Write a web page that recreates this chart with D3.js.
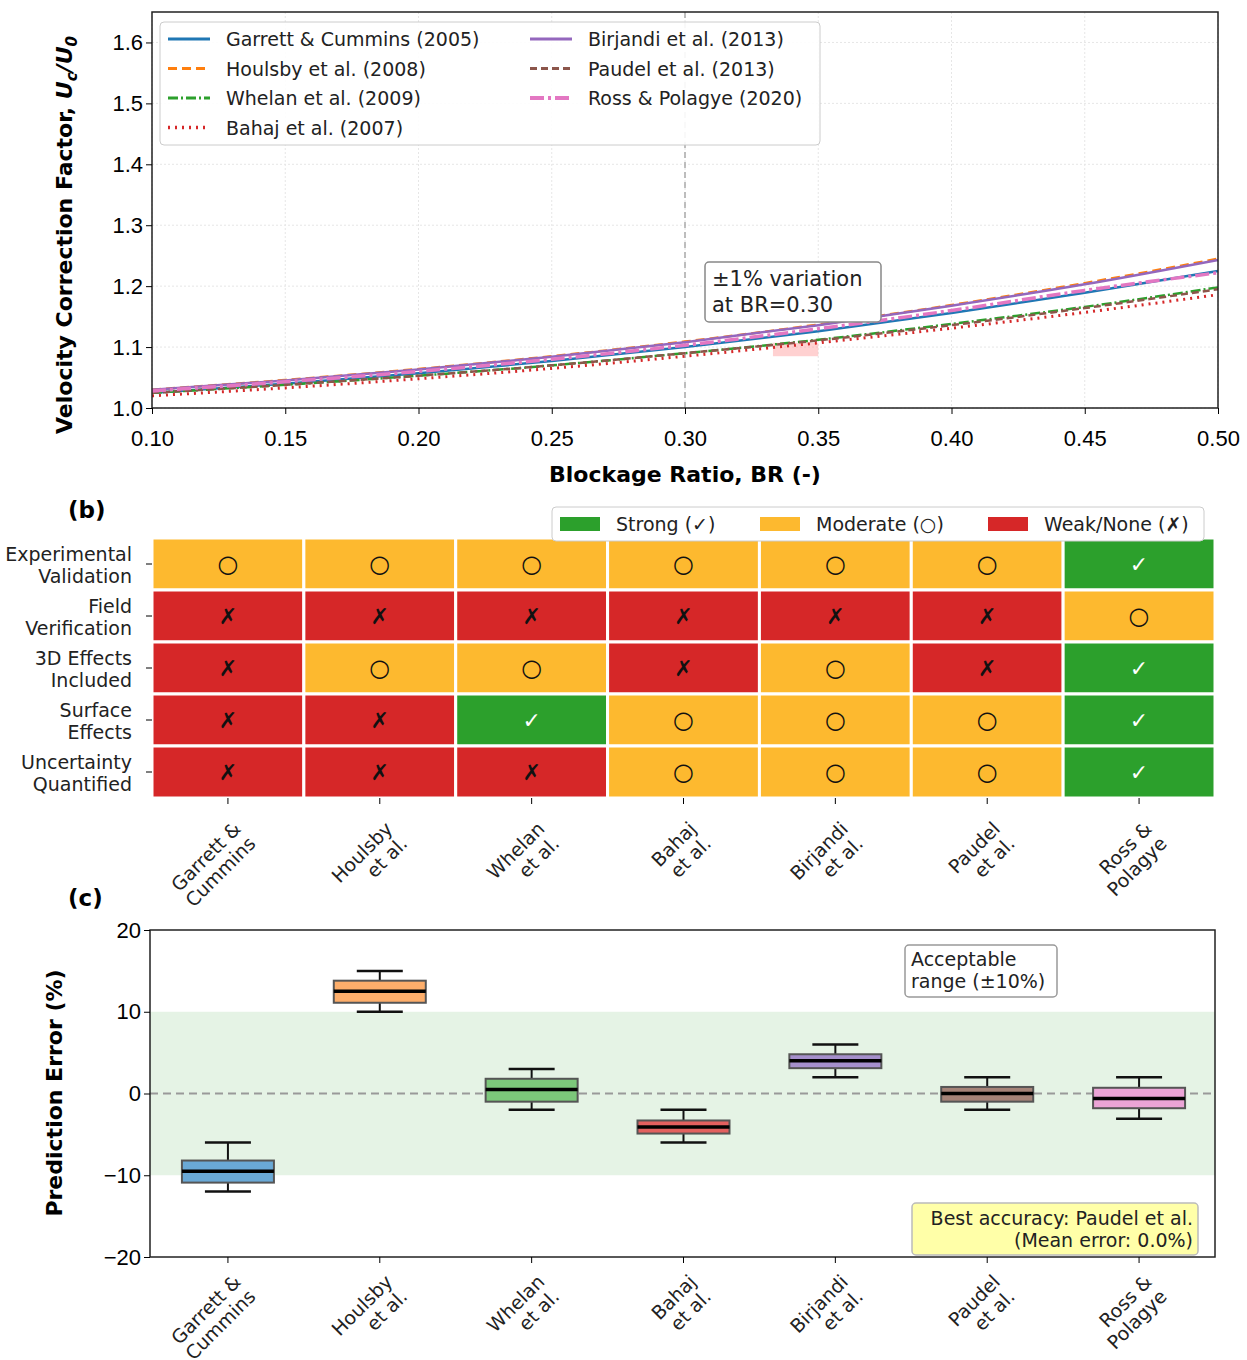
<!DOCTYPE html>
<html><head><meta charset="utf-8">
<script src="https://cdn.jsdelivr.net/npm/d3@7"></script>
<style>body{margin:0;background:#fff;font-family:"DejaVu Sans",sans-serif;}</style>
</head><body>
<script>
// ---------- data ----------
var brTicks = [0.10, 0.15, 0.20, 0.25, 0.30, 0.35, 0.40, 0.45, 0.50];
var methods = ["Garrett & Cummins (2005)", "Houlsby et al. (2008)", "Whelan et al. (2009)", "Bahaj et al. (2007)",
               "Birjandi et al. (2013)", "Paudel et al. (2013)", "Ross & Polagye (2020)"];
var shortNames = [["Garrett &", "Cummins"], ["Houlsby", "et al."], ["Whelan", "et al."], ["Bahaj", "et al."],
                  ["Birjandi", "et al."], ["Paudel", "et al."], ["Ross &", "Polagye"]];
var garrett  = [1.025, 1.040, 1.057, 1.077, 1.100, 1.126, 1.156, 1.189, 1.225];
var houlsby  = [1.030, 1.046, 1.064, 1.085, 1.109, 1.137, 1.169, 1.205, 1.245];
var whelan   = [1.025, 1.038, 1.053, 1.070, 1.090, 1.112, 1.138, 1.166, 1.198];
var bahaj    = [1.020, 1.033, 1.048, 1.065, 1.085, 1.107, 1.131, 1.157, 1.186];
var birjandi = [1.030, 1.045, 1.063, 1.084, 1.108, 1.136, 1.168, 1.203, 1.243];
var paudel   = [1.025, 1.038, 1.053, 1.070, 1.090, 1.111, 1.136, 1.164, 1.195];
var ross     = [1.028, 1.043, 1.060, 1.080, 1.103, 1.130, 1.160, 1.193, 1.222];
var criteria = [["Experimental", "Validation"], ["Field", "Verification"], ["3D Effects", "Included"],
                ["Surface", "Effects"], ["Uncertainty", "Quantified"]];
// 2 = strong, 1 = moderate, 0 = weak
var ratings = [
  [1, 1, 1, 1, 1, 1, 2],
  [0, 0, 0, 0, 0, 0, 1],
  [0, 1, 1, 0, 1, 0, 2],
  [0, 0, 2, 1, 1, 1, 2],
  [0, 0, 0, 1, 1, 1, 2]
];
// box stats: [whiskerLow, q1, median, q3, whiskerHigh]
var errStats = [
  [-12, -10.9, -9.5, -8.2, -6],
  [10, 11.1, 12.5, 13.8, 15],
  [-2, -1, 0.5, 1.8, 3],
  [-6, -4.9, -4.1, -3.3, -2],
  [2, 3.1, 4, 4.8, 6],
  [-2, -1, 0, 0.8, 2],
  [-3.1, -1.8, -0.6, 0.7, 2]
];

var lineColors = ["#1f77b4", "#ff7f0e", "#2ca02c", "#d62728", "#9467bd", "#8c564b", "#e377c2"];
var dashes = [null, "9,5", "10,3,2,3", "2,5", null, "7,4", "14,4,3,4"];
var widths = [2.5, 2.5, 2.5, 3, 2.5, 2.5, 3.5];
var boxFill = ["#6aa9d6", "#fdae6b", "#7cc77a", "#e3605f", "#a58fcc", "#a58378", "#eba4d6"];
var ratingColors = ["#d62728", "#fdb92f", "#2ca02c"];
var ratingSym = ["✗", "○", "✓"];

var svg = d3.select("body").append("svg").attr("width", 1247).attr("height", 1360);
var series = [garrett, houlsby, whelan, bahaj, birjandi, paudel, ross];

// ---------- (a) ----------
var ax = {l: 152, r: 1218, t: 12, b: 408};
var x = d3.scaleLinear().domain([0.1, 0.5]).range([ax.l, ax.r]);
var y = d3.scaleLinear().domain([1.0, 1.65]).range([ax.b, ax.t]);
var ga = svg.append("g");
// grid
ga.selectAll(".gx").data(brTicks).enter().append("line")
  .attr("x1", d => x(d)).attr("x2", d => x(d)).attr("y1", ax.t).attr("y2", ax.b)
  .attr("stroke", "#e6e6e6").attr("stroke-dasharray", "2,2");
ga.selectAll(".gy").data(d3.range(1.0, 1.61, 0.1)).enter().append("line")
  .attr("x1", ax.l).attr("x2", ax.r).attr("y1", d => y(d)).attr("y2", d => y(d))
  .attr("stroke", "#e6e6e6").attr("stroke-dasharray", "2,2");
ga.append("line").attr("x1", x(0.3)).attr("x2", x(0.3)).attr("y1", ax.t).attr("y2", ax.b)
  .attr("stroke", "#aaa").attr("stroke-width", 1.5).attr("stroke-dasharray", "6,4");
ga.append("rect").attr("x", x(0.333)).attr("y", y(1.107)).attr("width", x(0.35) - x(0.333))
  .attr("height", y(1.085) - y(1.107)).attr("fill", "#ff9999").attr("opacity", 0.45);
var line = d3.line().x((d, i) => x(brTicks[i])).y(d => y(d)).curve(d3.curveMonotoneX);
series.forEach(function(s, k) {
  ga.append("path").datum(s).attr("d", line).attr("fill", "none")
    .attr("stroke", lineColors[k]).attr("stroke-width", widths[k])
    .attr("stroke-dasharray", dashes[k]);
});
ga.append("rect").attr("x", ax.l).attr("y", ax.t).attr("width", ax.r - ax.l).attr("height", ax.b - ax.t)
  .attr("fill", "none").attr("stroke", "#222").attr("stroke-width", 1.5);
ga.append("g").attr("transform", `translate(0,${ax.b})`)
  .call(d3.axisBottom(x).tickValues(brTicks).tickFormat(d3.format(".2f")).tickSizeOuter(0))
  .call(g => g.select(".domain").remove())
  .selectAll("text").attr("font-size", 22).attr("dy", "1.3em");
ga.append("g").attr("transform", `translate(${ax.l},0)`)
  .call(d3.axisLeft(y).tickValues(d3.range(1.0, 1.61, 0.1)).tickFormat(d3.format(".1f")).tickSizeOuter(0))
  .call(g => g.select(".domain").remove())
  .selectAll("text").attr("font-size", 22);
ga.append("text").attr("x", 685).attr("y", 482).attr("text-anchor", "middle")
  .attr("font-size", 22).attr("font-weight", "bold").text("Blockage Ratio, BR (-)");
var yl = ga.append("text").attr("transform", "translate(72,235) rotate(-90)").attr("text-anchor", "middle")
  .attr("font-size", 22).attr("font-weight", "bold");
yl.append("tspan").text("Velocity Correction Factor, ");
yl.append("tspan").attr("font-style", "italic").text("U");
yl.append("tspan").attr("font-style", "italic").attr("font-size", 15).attr("dy", 5).text("c");
yl.append("tspan").attr("font-style", "italic").attr("dy", -5).text("/U");
yl.append("tspan").attr("font-style", "italic").attr("font-size", 15).attr("dy", 5).text("0");
// legend
ga.append("rect").attr("x", 160).attr("y", 22).attr("width", 660).attr("height", 123).attr("rx", 4)
  .attr("fill", "#fff").attr("fill-opacity", 0.9).attr("stroke", "#ccc");
methods.forEach(function(m, k) {
  var col = k < 4 ? 0 : 1, row = k < 4 ? k : k - 4;
  var lx = 168 + col * 362, ly = 39 + row * 29.5;
  ga.append("line").attr("x1", lx).attr("x2", lx + 42).attr("y1", ly).attr("y2", ly)
    .attr("stroke", lineColors[k]).attr("stroke-width", widths[k] + 0.5).attr("stroke-dasharray", dashes[k]);
  ga.append("text").attr("x", lx + 58).attr("y", ly + 7).attr("font-size", 19).attr("fill", "#222").text(m);
});
// annotation
ga.append("rect").attr("x", 705).attr("y", 262).attr("width", 176).attr("height", 60).attr("rx", 4)
  .attr("fill", "#fff").attr("stroke", "#888").attr("stroke-width", 1.5);
ga.append("text").attr("x", 712).attr("y", 286).attr("font-size", 21).attr("fill", "#222").text("±1% variation");
ga.append("text").attr("x", 712).attr("y", 312).attr("font-size", 21).attr("fill", "#222").text("at BR=0.30");

// ---------- (b) ----------
var bx = d3.scaleBand().domain(d3.range(7)).range([152, 1215]);
var by = d3.scaleBand().domain(d3.range(5)).range([538, 798]);
var gb = svg.append("g");
gb.append("text").attr("x", 68).attr("y", 518).attr("font-size", 23).attr("font-weight", "bold").text("(b)");
ratings.forEach(function(row, r) {
  row.forEach(function(v, c) {
    gb.append("rect").attr("x", bx(c)).attr("y", by(r)).attr("width", bx.bandwidth()).attr("height", by.bandwidth())
      .attr("fill", ratingColors[v]).attr("stroke", "#fff").attr("stroke-width", 3);
    gb.append("text").attr("x", bx(c) + bx.bandwidth() / 2).attr("y", by(r) + by.bandwidth() / 2 + 8)
      .attr("text-anchor", "middle").attr("font-size", v === 1 ? 24 : 22)
      .attr("fill", v === 2 ? "#fff" : "#111").text(ratingSym[v]);
  });
});
gb.append("g").attr("transform", "translate(152,0)")
  .call(d3.axisLeft(by).tickFormat("").tickSizeOuter(0)).call(g => g.select(".domain").remove());
gb.append("g").attr("transform", "translate(0,798)")
  .call(d3.axisBottom(bx).tickFormat("").tickSizeOuter(0)).call(g => g.select(".domain").remove());
criteria.forEach(function(c, r) {
  c.forEach(function(t, i) {
    gb.append("text").attr("x", 132).attr("y", by(r) + 23 + i * 22).attr("text-anchor", "end")
      .attr("font-size", 19).attr("fill", "#222").text(t);
  });
});
function rotLabels(g, scale, y0) {
  shortNames.forEach(function(n, c) {
    var t = g.append("text").attr("transform", `translate(${scale(c) + scale.bandwidth() / 2 + 14},${y0}) rotate(-45)`)
      .attr("text-anchor", "end").attr("font-size", 19).attr("fill", "#222");
    n.forEach((s, i) => t.append("tspan").attr("x", 0).attr("dy", i === 0 ? 0 : 21).text(s));
  });
}
rotLabels(gb, bx, 830);
// legend b
gb.append("rect").attr("x", 552).attr("y", 507).attr("width", 652).attr("height", 34).attr("rx", 4)
  .attr("fill", "#fff").attr("stroke", "#ccc");
var legB = [["Strong (✓)", 2, 560], ["Moderate (○)", 1, 760], ["Weak/None (✗)", 0, 988]];
legB.forEach(function(l) {
  gb.append("rect").attr("x", l[2]).attr("y", 517).attr("width", 40).attr("height", 14).attr("fill", ratingColors[l[1]]);
  gb.append("text").attr("x", l[2] + 56).attr("y", 531).attr("font-size", 19).attr("fill", "#222").text(l[0]);
});

// ---------- (c) ----------
var cx = d3.scaleBand().domain(d3.range(7)).range([152, 1215]);
var cy = d3.scaleLinear().domain([-20, 20]).range([1257, 930]);
var gc = svg.append("g");
gc.append("text").attr("x", 68).attr("y", 906).attr("font-size", 23).attr("font-weight", "bold").text("(c)");
gc.append("rect").attr("x", 150).attr("y", cy(10)).attr("width", 1065).attr("height", cy(-10) - cy(10))
  .attr("fill", "#2ca02c").attr("fill-opacity", 0.12);
gc.append("line").attr("x1", 150).attr("x2", 1215).attr("y1", cy(0)).attr("y2", cy(0))
  .attr("stroke", "#999").attr("stroke-width", 2).attr("stroke-dasharray", "8,5");
var bw = 92;
errStats.forEach(function(s, c) {
  var mx = cx(c) + cx.bandwidth() / 2;
  gc.append("line").attr("x1", mx).attr("x2", mx).attr("y1", cy(s[0])).attr("y2", cy(s[4])).attr("stroke", "#111").attr("stroke-width", 2);
  [s[0], s[4]].forEach(v => gc.append("line").attr("x1", mx - 23).attr("x2", mx + 23).attr("y1", cy(v)).attr("y2", cy(v))
    .attr("stroke", "#111").attr("stroke-width", 2.5));
  gc.append("rect").attr("x", mx - bw / 2).attr("y", cy(s[3])).attr("width", bw).attr("height", cy(s[1]) - cy(s[3]))
    .attr("fill", boxFill[c]).attr("stroke", "#555").attr("stroke-width", 2);
  gc.append("line").attr("x1", mx - bw / 2).attr("x2", mx + bw / 2).attr("y1", cy(s[2])).attr("y2", cy(s[2]))
    .attr("stroke", "#000").attr("stroke-width", 3.5);
});
gc.append("rect").attr("x", 150).attr("y", 930).attr("width", 1065).attr("height", 327)
  .attr("fill", "none").attr("stroke", "#222").attr("stroke-width", 1.5);
gc.append("g").attr("transform", "translate(150,0)")
  .call(d3.axisLeft(cy).tickValues([-20, -10, 0, 10, 20]).tickFormat(d => d < 0 ? "\u2212" + (-d) : d).tickSizeOuter(0))
  .call(g => g.select(".domain").remove())
  .selectAll("text").attr("font-size", 22);
gc.append("g").attr("transform", "translate(0,1257)")
  .call(d3.axisBottom(cx).tickFormat("").tickSizeOuter(0)).call(g => g.select(".domain").remove());
rotLabels(gc, cx, 1283);
gc.append("text").attr("transform", "translate(62,1093) rotate(-90)").attr("text-anchor", "middle")
  .attr("font-size", 22).attr("font-weight", "bold").text("Prediction Error (%)");
gc.append("rect").attr("x", 905).attr("y", 945).attr("width", 152).attr("height", 52).attr("rx", 4)
  .attr("fill", "#fff").attr("stroke", "#999").attr("stroke-width", 1.5);
gc.append("text").attr("x", 911).attr("y", 966).attr("font-size", 19).attr("fill", "#222").text("Acceptable");
gc.append("text").attr("x", 911).attr("y", 988).attr("font-size", 19).attr("fill", "#222").text("range (±10%)");
gc.append("rect").attr("x", 912).attr("y", 1203).attr("width", 286).attr("height", 52).attr("rx", 4)
  .attr("fill", "#ffffa8").attr("stroke", "#bbb").attr("stroke-width", 1.5);
gc.append("text").attr("x", 1193).attr("y", 1225).attr("text-anchor", "end").attr("font-size", 19).attr("fill", "#222").text("Best accuracy: Paudel et al.");
gc.append("text").attr("x", 1193).attr("y", 1247).attr("text-anchor", "end").attr("font-size", 19).attr("fill", "#222").text("(Mean error: 0.0%)");
</script>
</body></html>
